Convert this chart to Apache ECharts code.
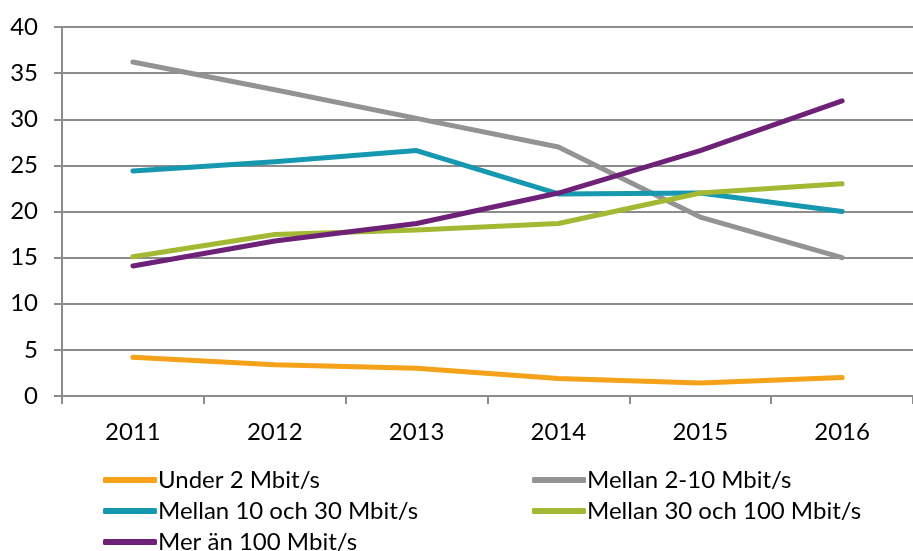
<!DOCTYPE html>
<html>
<head>
<meta charset="utf-8">
<script src="https://cdn.jsdelivr.net/npm/echarts@6/dist/echarts.min.js"></script>
<style>
html,body{margin:0;padding:0;background:#fff;}
#main{width:913px;height:551px;}
</style>
</head>
<body>
<div id="main"></div>
<script>
// kategorier och serier
var years = ['2011', '2012', '2013', '2014', '2015', '2016'];
var under2 = [4.2, 3.4, 3.0, 1.9, 1.4, 2.0];
var mellan2_10 = [36.2, 33.2, 30.1, 27.0, 19.4, 15.0];
var mellan10_30 = [24.4, 25.4, 26.6, 21.9, 22.0, 20.0];
var mellan30_100 = [15.1, 17.5, 18.0, 18.7, 22.0, 23.0];
var mer100 = [14.1, 16.8, 18.7, 22.0, 26.6, 32.0];

var names = ['Under 2 Mbit/s', 'Mellan 2-10 Mbit/s', 'Mellan 10 och 30 Mbit/s',
  'Mellan 30 och 100 Mbit/s', 'Mer än 100 Mbit/s'];
var colors = ['#F5A11A', '#939393', '#1598B0', '#A3B833', '#6D2277'];
var values = [under2, mellan2_10, mellan10_30, mellan30_100, mer100];

var font = 'Lato, "Open Sans", sans-serif';

var series = [];
for (var i = 0; i < values.length; i++) {
  series.push({
    name: names[i],
    type: 'line',
    data: values[i],
    symbol: 'none',
    lineStyle: { width: 5, color: colors[i], cap: 'round', join: 'round' },
    itemStyle: { color: colors[i] },
    animation: false
  });
}

var legendBase = {
  orient: 'vertical',
  icon: 'roundRect',
  itemWidth: 54,
  itemHeight: 6,
  itemGap: 7,
  height: 100,
  padding: 0,
  textStyle: { fontFamily: font, fontSize: 24, color: '#000', padding: [0, 0, 0, -4] },
  selectedMode: false
};

var chart = echarts.init(document.getElementById('main'));
chart.setOption({
  backgroundColor: '#fff',
  color: colors,
  grid: { left: 62, right: -12, top: 27, bottom: 155 },
  legend: [
    Object.assign({}, legendBase, { left: 103, top: 468, data: [names[0], names[2], names[4]] }),
    Object.assign({}, legendBase, { left: 532, top: 468, data: [names[1], names[3]] })
  ],
  xAxis: {
    type: 'category',
    data: years,
    boundaryGap: true,
    axisLine: { lineStyle: { color: '#8c8c8c', width: 2 } },
    axisTick: { show: true, length: 8, alignWithLabel: false, lineStyle: { color: '#8c8c8c', width: 2 } },
    axisLabel: { fontFamily: font, fontSize: 24, color: '#000', margin: 24 }
  },
  yAxis: {
    type: 'value',
    min: 0,
    max: 40,
    interval: 5,
    axisLine: { show: true, lineStyle: { color: '#8c8c8c', width: 2 } },
    axisTick: { show: true, length: 8, lineStyle: { color: '#8c8c8c', width: 2 } },
    splitLine: { lineStyle: { color: '#8c8c8c', width: 2 } },
    axisLabel: { fontFamily: font, fontSize: 24, color: '#000', margin: 24 }
  },
  series: series
});
</script>
</body>
</html>
